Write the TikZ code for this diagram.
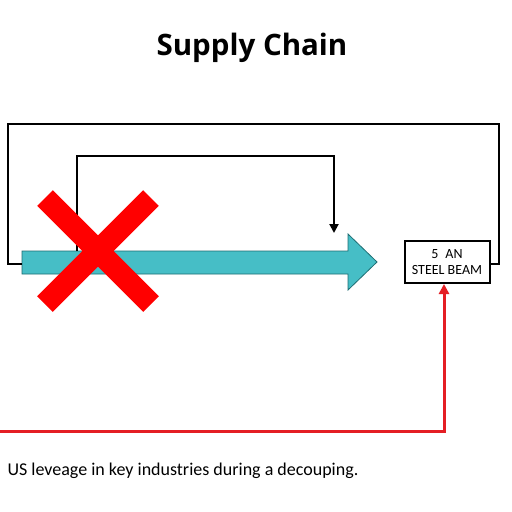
\documentclass[tikz,border=0pt]{standalone}
\usepackage{fontspec}
\usetikzlibrary{arrows.meta}
\setmainfont{Open Sans}
\newfontfamily\bodyfont{Carlito}
\begin{document}
\begin{tikzpicture}[x=1pt,y=-1pt,
  blk/.style={draw=black,line width=2pt},
  redline/.style={draw={rgb,255:red,228;green,30;blue,36},line width=3pt},
  labelbox/.style={draw=black,line width=2pt,fill=white,minimum width=85pt,minimum height=42pt,inner sep=1pt,align=center,font=\bodyfont\fontsize{14}{15.5}\selectfont}]
\useasboundingbox[fill=white] (0,0) rectangle (512,512);
\node[font=\fontsize{29.5}{32}\selectfont\bfseries] (title) at (252,48) {Supply Chain};
% teal arrow
\path[fill={rgb,255:red,70;green,190;blue,198},draw={rgb,255:red,30;green,110;blue,115},line width=0.8pt]
  (22,251) -- (348,251) -- (348,234) -- (377,262) -- (348,290) -- (348,274) -- (22,274) -- cycle;
\coordinate (arrL) at (22,264);
\coordinate (arrTop) at (77,251);
\coordinate (arrTgt) at (334,233);
\node[labelbox] (beam) at (447,262) {5\enspace AN\\STEEL BEAM};
% outer loop
\draw[blk] (arrL) -- (8,264) -- (8,124) -- (499,124) -- (499,264) -- (beam.east |- 0,264);
% inner loop
\draw[blk,-{Triangle[length=9pt,width=9pt]}] (arrTop) -- (77,156) -- (334,156) -- (arrTgt);
% red X
\draw[draw=red,line width=22pt] (45,198) -- (151,304);
\draw[draw=red,line width=22pt] (151,198) -- (45,304);
% red line
\coordinate (redStart) at (0,431);
\draw[redline,-{Triangle[length=10pt,width=10pt]}] (redStart) -- (444,431) -- (beam.south -| 444,0);
\node[anchor=west,font=\bodyfont\fontsize{18}{20}\selectfont] (caption) at (4,471) {US leveage in key industries during a decouping.};
\end{tikzpicture}
\end{document}
